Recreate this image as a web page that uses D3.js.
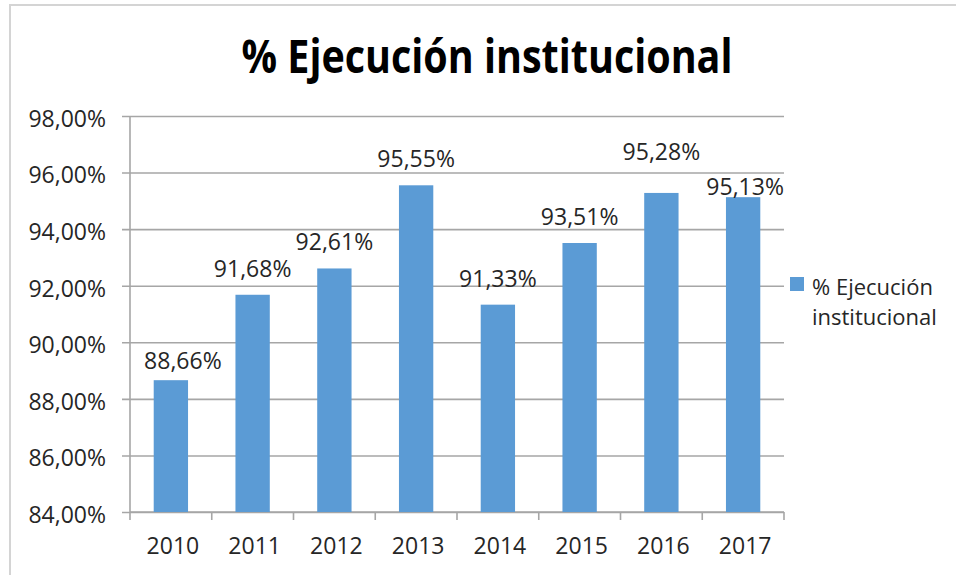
<!DOCTYPE html>
<html>
  <head>
    <meta charset="utf-8">
    <title>% Ejecución institucional</title>
    <script src="https://d3js.org/d3.v7.min.js"></script>
    <style>
      body { margin: 0; background: #fff; }
      text { font-family: "Open Sans", sans-serif; fill: #262626; }
      .grid line, .domain { stroke: #a6a6a6; stroke-width: 1.6; }
    </style>
  </head>
  <body>
    <svg id="chart" width="956" height="575"></svg>

    <script>
      // data
      const years = ["2010", "2011", "2012", "2013", "2014", "2015", "2016", "2017"];
      const execution = [88.66, 91.68, 92.61, 95.55, 91.33, 93.51, 95.28, 95.13];
      const yTicks = [84, 86, 88, 90, 92, 94, 96, 98];
      const seriesName = ["% Ejecución", "institucional"];
      const chartTitle = "% Ejecución institucional";

      // some labels were hand-moved in the original, [dx, dy]
      const labelNudge = { "2010": [12, 7], "2016": [0, -15], "2017": [2, 16] };

      const svg = d3.select("svg#chart");
      const margin = { top: 116, right: 172, bottom: 63, left: 130 };
      const width = +svg.attr("width");
      const height = +svg.attr("height");
      const plotW = width - margin.left - margin.right;
      const plotH = height - margin.top - margin.bottom;
      const fmt = v => d3.format(".2f")(v).replace(".", ",") + "%";

      // light frame of the chart area
      svg.append("path")
         .attr("d", "M10,575 V5 H956")
         .attr("fill", "none")
         .attr("stroke", "#d4d4d4")
         .attr("stroke-width", 2);

      svg.append("text")
         .attr("x", 487)
         .attr("y", 73)
         .attr("text-anchor", "middle")
         .attr("font-size", 46)
         .attr("font-weight", "bold")
         .attr("textLength", 491)
         .attr("lengthAdjust", "spacingAndGlyphs")
         .style("fill", "#000")
         .text(chartTitle);

      const g = svg.append("g")
                   .attr("transform", "translate(" + margin.left + "," + margin.top + ")");

      const x = d3.scaleBand()
                  .domain(years)
                  .range([0, plotW])
                  .paddingInner(0.58)
                  .paddingOuter(0.29);

      const y = d3.scaleLinear()
                  .domain([84, 98])
                  .range([plotH, 0]);

      // y axis + gridlines
      const yAxis = g.append("g")
                     .attr("class", "grid")
                     .call(d3.axisLeft(y).tickValues(yTicks).tickFormat(fmt).tickSize(8).tickPadding(16));
      yAxis.selectAll(".tick line").attr("x2", plotW).attr("x1", -8);
      yAxis.selectAll(".tick text")
           .attr("font-size", 23)
           .attr("font-family", "Open Sans")
           .attr("dy", "0.45em");
      yAxis.select(".domain").remove();
      g.append("line")
       .attr("class", "domain")
       .attr("x1", 0).attr("x2", 0)
       .attr("y1", 0).attr("y2", plotH);

      // x axis
      const xAxis = g.append("g")
                     .attr("transform", "translate(0," + plotH + ")")
                     .call(d3.axisBottom(x).tickSize(0).tickPadding(26));
      xAxis.select(".domain").attr("d", "M0,0H" + plotW);
      xAxis.selectAll(".tick text")
           .attr("font-size", 23)
           .attr("font-family", "Open Sans")
           .attr("dx", 2);

      const bounds = d3.range(years.length + 1).map(i => i * x.step());
      xAxis.selectAll("line.bound").data(bounds)
           .join("line")
           .attr("class", "bound")
           .attr("x1", d => d).attr("x2", d => d)
           .attr("y1", 0).attr("y2", 8)
           .attr("stroke", "#a6a6a6")
           .attr("stroke-width", 1.6);

      // bars
      g.selectAll("rect.bar").data(execution)
       .join("rect")
       .attr("class", "bar")
       .attr("x", (d, i) => x(years[i]))
       .attr("width", x.bandwidth())
       .attr("y", d => y(d))
       .attr("height", d => plotH - y(d))
       .attr("fill", "#5b9bd5");

      // value labels
      g.selectAll("text.val").data(execution)
       .join("text")
       .attr("class", "val")
       .attr("x", (d, i) => x(years[i]) + x.bandwidth() / 2 + (labelNudge[years[i]] || [0, 0])[0])
       .attr("y", (d, i) => y(d) - 18 + (labelNudge[years[i]] || [0, 0])[1])
       .attr("text-anchor", "middle")
       .attr("font-size", 23)
       .text(fmt);

      // legend
      const legend = svg.append("g")
                        .attr("transform", "translate(790,277)");
      legend.append("rect")
            .attr("width", 14)
            .attr("height", 14)
            .attr("fill", "#5b9bd5");
      legend.selectAll("text").data(seriesName)
            .join("text")
            .attr("x", 22)
            .attr("y", (d, i) => 18 + i * 30)
            .attr("font-size", 22)
            .text(d => d);
    </script>
  </body>
</html>
